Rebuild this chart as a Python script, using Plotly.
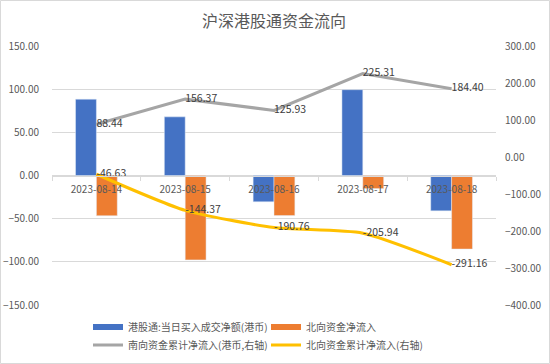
import plotly.graph_objects as go

dates = ["2023-08-14", "2023-08-15", "2023-08-16", "2023-08-17", "2023-08-18"]
south_daily = [88.44, 67.93, -30.44, 99.38, -40.91]
north_daily = [-46.63, -97.74, -46.39, -15.18, -85.22]
south_cum = [88.44, 156.37, 125.93, 225.31, 184.40]
north_cum = [-46.63, -144.37, -190.76, -205.94, -291.16]

names = ["港股通:当日买入成交净额(港币)", "北向资金净流入",
         "南向资金累计净流入(港币,右轴)", "北向资金累计净流入(右轴)"]
colors = ["#4472C4", "#ED7D31", "#A5A5A5", "#FFC000"]

FONT = "Noto Sans CJK SC, Noto Sans, sans-serif"
GRAY_TXT = "#595959"

fig = go.Figure()
fig.add_trace(go.Bar(x=dates, y=south_daily, marker_color=colors[0], name=names[0],
                     showlegend=False, yaxis="y"))
fig.add_trace(go.Bar(x=dates, y=north_daily, marker_color=colors[1], name=names[1],
                     showlegend=False, yaxis="y"))
fig.add_trace(go.Scatter(x=dates, y=south_cum, mode="lines+text", name=names[2],
                         line=dict(color=colors[2], width=3),
                         text=[f"{v:.2f}" for v in south_cum], textposition="middle right",
                         textfont=dict(color="#404040", size=10.5),
                         yaxis="y2", showlegend=False))
fig.add_trace(go.Scatter(x=dates, y=north_cum, mode="lines+text", name=names[3],
                         line=dict(color=colors[3], width=3, shape="spline", smoothing=0.6),
                         text=[f"{v:.2f}" for v in north_cum], textposition="middle right",
                         textfont=dict(color="#404040", size=10.5),
                         yaxis="y2", showlegend=False))

# legend entries
for i in range(4):
    fig.add_trace(go.Scatter(x=[None], y=[None], mode="lines", name=names[i],
                             line=dict(color=colors[i], width=6 if i < 2 else 3),
                             legend="legend" if i < 2 else "legend2", showlegend=True))

W, H = 550, 364
ml, mr, mt, mb = 52, 54, 46, 59
pw, ph = W - ml - mr, H - mt - mb

fig.update_layout(
    width=W, height=H,
    margin=dict(l=ml, r=mr, t=mt, b=mb, autoexpand=False),
    paper_bgcolor="white", plot_bgcolor="white",
    font=dict(family=FONT, color=GRAY_TXT, size=10),
    title=dict(text="沪深港股通资金流向", x=0.5, xref="paper", xanchor="center",
               y=1 - 21 / H, yanchor="middle", font=dict(size=16, color=GRAY_TXT)),
    barmode="group", bargap=0.53, bargroupgap=0,
    xaxis=dict(type="category", anchor="free", position=0.5, showline=True,
               linecolor="#D9D9D9", linewidth=1, ticks="outside", tickson="boundaries",
               ticklen=4, tickcolor="#D9D9D9", showgrid=False, ticklabelstandoff=4,
               tickfont=dict(size=10, color=GRAY_TXT)),
    yaxis=dict(range=[-150, 150], dtick=50, tickformat=".2f", showgrid=True,
               gridcolor="#D9D9D9", zeroline=False, showline=False,
               ticklabelstandoff=12, tickfont=dict(size=10, color=GRAY_TXT)),
    yaxis2=dict(range=[-400, 300], dtick=100, tickformat=".2f", overlaying="y",
                side="right", showgrid=False, zeroline=False, showline=False,
                ticklabelstandoff=8, tickfont=dict(size=10, color=GRAY_TXT)),
    legend=dict(orientation="h", x=(88 - ml) / pw, xanchor="left",
                y=(305 - 327) / ph, yanchor="middle", entrywidth=133,
                font=dict(size=10, color=GRAY_TXT), bgcolor="rgba(0,0,0,0)"),
    legend2=dict(orientation="h", x=(88 - ml) / pw, xanchor="left",
                 y=(305 - 345) / ph, yanchor="middle", entrywidth=133,
                 font=dict(size=10, color=GRAY_TXT), bgcolor="rgba(0,0,0,0)"),
    shapes=[dict(type="rect", xref="paper", yref="paper",
                 x0=(0.5 - ml) / pw, x1=(W - 0.5 - ml) / pw,
                 y0=(305 - (H - 0.5)) / ph, y1=(305 - 0.5) / ph,
                 line=dict(color="#D9D9D9", width=1), fillcolor="rgba(0,0,0,0)",
                 layer="below")],
)

fig.write_html("out.html", config={"displayModeBar": False},
               post_script="document.body.style.margin='0';document.body.style.overflow='hidden';")
